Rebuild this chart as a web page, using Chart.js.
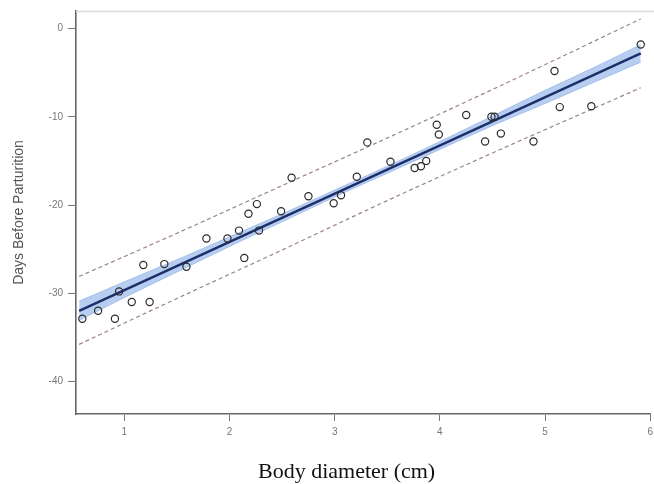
<!DOCTYPE html>
<html lang="en">
<head>
    <meta charset="UTF-8">
    <title>Days Before Parturition vs Body diameter</title>
    <script src="https://cdn.jsdelivr.net/npm/chart.js"></script>
    <style>
        html, body { margin: 0; padding: 0; background: #fff; overflow: hidden; }
        #wrap { position: relative; width: 654px; height: 484px; overflow: hidden; }
        #plot { position: absolute; left: 0; top: 0; }
        #xTitle {
            position: absolute; left: 258px; top: 459px;
            font-family: "Liberation Serif", serif; font-size: 22px; line-height: 24px;
            color: #111; white-space: nowrap;
        }
    </style>
</head>
<body>
    <div id="wrap">
        <canvas id="plot" width="658" height="484"></canvas>
        <div id="xTitle">Body diameter (cm)</div>
    </div>

    <script>
        // Observed embryos: body diameter (cm) and days before parturition
        const bodyDiameter = [0.60, 0.75, 0.91, 0.95, 1.07, 1.24, 1.18, 1.38, 1.59, 1.78,
                              1.98, 2.09, 2.14, 2.18, 2.26, 2.28, 2.49, 2.59, 2.75, 2.99,
                              3.06, 3.21, 3.31, 3.53, 3.76, 3.82, 3.87, 3.97, 3.99, 4.25,
                              4.43, 4.49, 4.52, 4.58, 4.89, 5.09, 5.14, 5.44, 5.91];
        const daysBefore = [-32.9, -32.0, -32.9, -29.8, -31.0, -31.0, -26.8, -26.7, -27.0, -23.8,
                            -23.8, -22.9, -26.0, -21.0, -19.9, -22.9, -20.7, -16.9, -19.0, -19.8,
                            -18.9, -16.8, -12.9, -15.1, -15.8, -15.6, -15.0, -10.9, -12.0, -9.8,
                            -12.8, -10.0, -10.0, -11.9, -12.8, -4.8, -8.9, -8.8, -1.8];

        // Fitted regression line (end points)
        const fitX = [0.57, 5.91];
        const fitY = [-32.0, -2.8];

        // 95% confidence band around the fit
        const ciX = [0.57, 1.0, 1.5, 2.0, 2.5, 3.0, 3.5, 4.0, 4.5, 5.0, 5.5, 5.91];
        const ciUpper = [-30.9, -28.7, -26.2, -23.6, -21.0, -18.3, -15.6, -12.8, -9.9, -7.0, -4.2, -1.8];
        const ciLower = [-33.1, -30.5, -27.6, -24.7, -21.9, -19.1, -16.4, -13.7, -11.0, -8.5, -5.9, -3.8];

        // 95% prediction interval
        const piX = [0.57, 1.5, 2.5, 3.5, 4.5, 5.91];
        const piUpper = [-28.1, -23.2, -17.8, -12.4, -6.9, 1.1];
        const piLower = [-35.8, -30.6, -25.1, -19.5, -14.1, -6.7];

        // Axis ranges and ticks
        const xTicks = [1, 2, 3, 4, 5, 6];
        const yTicks = [0, -10, -20, -30, -40];
        const xRange = [0.54, 6.0];
        const yRange = [-43.7, 2.0];

        const toPoints = (xs, ys) => xs.map((x, i) => ({ x: x, y: ys[i] }));

        // light frame line along the top of the plot area
        const topFrame = {
            id: 'topFrame',
            beforeDatasetsDraw(chart) {
                const { ctx, chartArea } = chart;
                ctx.save();
                ctx.strokeStyle = '#dcdcdc';
                ctx.lineWidth = 1.5;
                ctx.beginPath();
                ctx.moveTo(chartArea.left, chartArea.top + 0.5);
                ctx.lineTo(chartArea.right + 10, chartArea.top + 0.5);
                ctx.stroke();
                ctx.restore();
            }
        };

        const dashColor = '#9a8580';

        new Chart(document.getElementById('plot').getContext('2d'), {
            type: 'scatter',
            data: {
                datasets: [
                    {
                        label: 'Observed',
                        data: toPoints(bodyDiameter, daysBefore),
                        pointStyle: 'circle',
                        pointRadius: 3.6,
                        pointBorderWidth: 1.2,
                        pointBorderColor: '#2b2b2b',
                        pointBackgroundColor: 'rgba(255,255,255,0)',
                        order: 0
                    },
                    {
                        label: 'Fit',
                        data: toPoints(fitX, fitY),
                        showLine: true,
                        borderColor: '#1d2f6a',
                        borderWidth: 2.5,
                        pointRadius: 0,
                        order: 1
                    },
                    {
                        label: 'PI upper',
                        data: toPoints(piX, piUpper),
                        showLine: true,
                        borderColor: dashColor,
                        borderWidth: 1.2,
                        borderDash: [4, 3],
                        cubicInterpolationMode: 'monotone',
                        pointRadius: 0,
                        order: 2
                    },
                    {
                        label: 'PI lower',
                        data: toPoints(piX, piLower),
                        showLine: true,
                        borderColor: dashColor,
                        borderWidth: 1.2,
                        borderDash: [4, 3],
                        cubicInterpolationMode: 'monotone',
                        pointRadius: 0,
                        order: 2
                    },
                    {
                        label: 'CI lower',
                        data: toPoints(ciX, ciLower),
                        showLine: true,
                        borderColor: 'rgba(120,160,225,0.5)',
                        borderWidth: 1,
                        cubicInterpolationMode: 'monotone',
                        pointRadius: 0,
                        order: 3
                    },
                    {
                        label: 'CI upper',
                        data: toPoints(ciX, ciUpper),
                        showLine: true,
                        borderColor: 'rgba(120,160,225,0.5)',
                        borderWidth: 1,
                        backgroundColor: 'rgba(125,165,230,0.55)',
                        fill: '-1',
                        cubicInterpolationMode: 'monotone',
                        pointRadius: 0,
                        order: 3
                    }
                ]
            },
            options: {
                responsive: false,
                animation: false,
                events: [],
                layout: { padding: { top: 8, left: 0, right: 0, bottom: 0 } },
                plugins: {
                    legend: { display: false },
                    tooltip: { enabled: false }
                },
                scales: {
                    x: {
                        type: 'linear',
                        min: xRange[0],
                        max: xRange[1],
                        afterFit: (scale) => { scale.height = 70; },
                        afterBuildTicks: (scale) => { scale.ticks = xTicks.map(v => ({ value: v })); },
                        border: { display: true, color: '#666', width: 1.6 },
                        grid: { drawOnChartArea: false, drawTicks: true, tickLength: 7, color: '#777', tickWidth: 1 },
                        ticks: {
                            padding: 5,
                            color: '#777',
                            font: { family: 'Liberation Sans', size: 10 }
                        }
                    },
                    y: {
                        type: 'linear',
                        min: yRange[0],
                        max: yRange[1],
                        afterFit: (scale) => { scale.width = 76; },
                        afterBuildTicks: (scale) => { scale.ticks = yTicks.map(v => ({ value: v })); },
                        border: { display: true, color: '#666', width: 1.6 },
                        grid: { drawOnChartArea: false, drawTicks: true, tickLength: 8, color: '#777', tickWidth: 1 },
                        ticks: {
                            padding: 5,
                            color: '#777',
                            font: { family: 'Liberation Sans', size: 10 }
                        },
                        title: {
                            display: true,
                            text: 'Days Before Parturition',
                            color: '#555',
                            padding: { top: 11, bottom: 0 },
                            font: { family: 'Liberation Sans', size: 14 }
                        }
                    }
                }
            },
            plugins: [topFrame]
        });
    </script>
</body>
</html>
